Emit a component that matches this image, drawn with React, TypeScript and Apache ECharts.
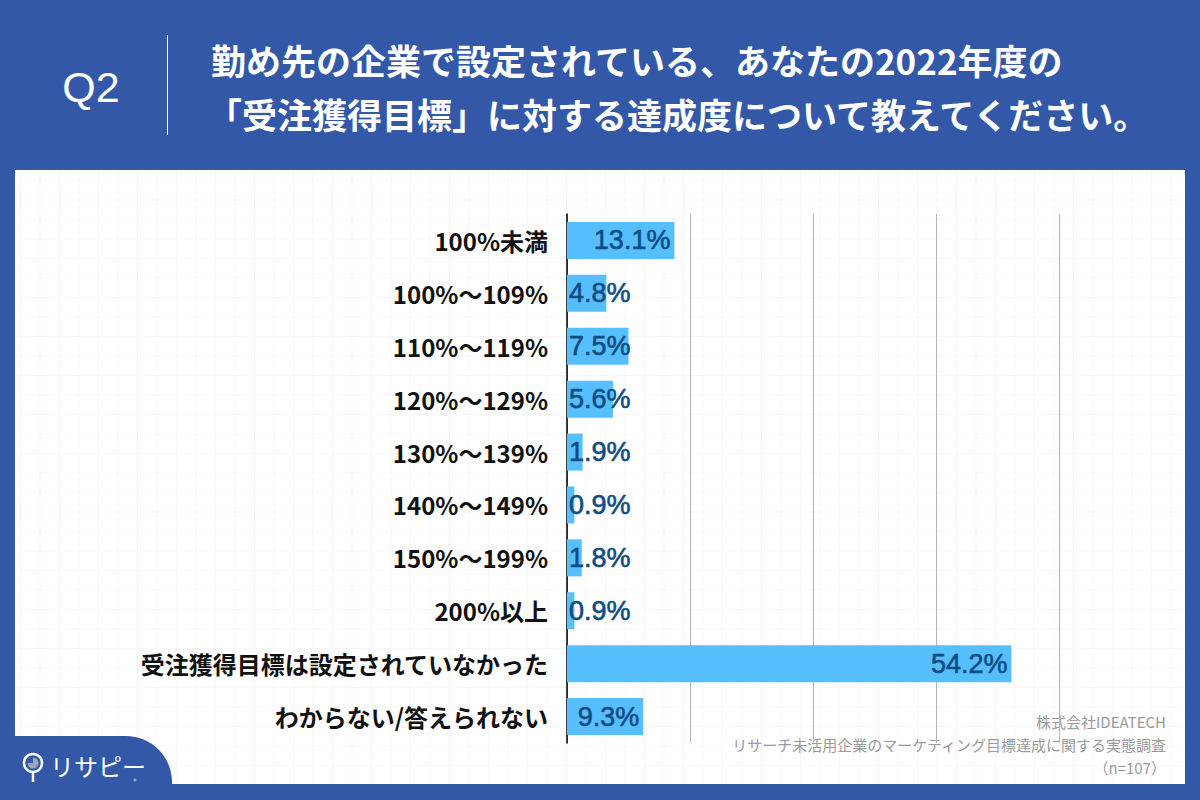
import React, { useEffect, useRef } from "react";
import * as echarts from "echarts";

const categories = [
  "100%未満",
  "100%～109%",
  "110%～119%",
  "120%～129%",
  "130%～139%",
  "140%～149%",
  "150%～199%",
  "200%以上",
  "受注獲得目標は設定されていなかった",
  "わからない/答えられない",
];
const values = [13.1, 4.8, 7.5, 5.6, 1.9, 0.9, 1.8, 0.9, 54.2, 9.3];
const xTicks = [0, 15, 30, 45, 60];

const titleLines = [
  "勤め先の企業で設定されている、あなたの2022年度の",
  "「受注獲得目標」に対する達成度について教えてください。",
];
const questionLabel = "Q2";
const sourceLines = [
  "株式会社IDEATECH",
  "リサーチ未活用企業のマーケティング目標達成に関する実態調査",
  "（n=107）",
];
const logoText = "リサピー";

const BLUE = "#3358a8";
const BAR = "#56bfff";
const LABEL = "#0f4c81";
const CJK = '"Noto Sans CJK JP", "Noto Sans", sans-serif';

export default function App() {
  const ref = useRef<HTMLDivElement>(null);

  useEffect(() => {
    if (!ref.current) return;
    const chart = echarts.init(ref.current, undefined, { renderer: "svg" });
    chart.setOption({
      animation: false,
      backgroundColor: "transparent",
      grid: { left: 567, right: 141, top: 214, bottom: 57, containLabel: false },
      xAxis: {
        type: "value",
        min: xTicks[0],
        max: xTicks[xTicks.length - 1],
        interval: xTicks[1] - xTicks[0],
        axisLine: { show: false },
        axisTick: { show: false },
        axisLabel: { show: false },
        splitLine: { show: true, lineStyle: { color: "#b5b5b5", width: 1 } },
      },
      yAxis: {
        type: "category",
        inverse: true,
        data: categories,
        axisLine: { show: true, lineStyle: { color: "#000", width: 1.5 } },
        axisTick: { show: false },
        axisLabel: {
          margin: 19,
          fontSize: 24,
          fontWeight: "bold",
          color: "#111",
          fontFamily: CJK,
        },
      },
      series: [
        {
          type: "bar",
          barCategoryGap: "30%",
          itemStyle: { color: BAR },
          data: values.map((v) => ({
            value: v,
            label:
              v >= 9
                ? { position: "insideRight", distance: 4 }
                : { position: "insideLeft", distance: 2 },
          })),
          label: {
            show: true,
            formatter: (p: any) => Number(p.value).toFixed(1) + "%",
            fontSize: 27,
            color: LABEL,
            textBorderColor: LABEL,
            textBorderWidth: 0.6,
            fontFamily: '"Liberation Sans", Arial, sans-serif',
          },
        },
      ],
      graphic: [
        {
          type: "text",
          style: {
            text: questionLabel,
            x: 91,
            y: 87,
            align: "center",
            verticalAlign: "middle",
            fill: "#fff",
            fontSize: 43,
            fontFamily: '"Liberation Sans", Arial, sans-serif',
          },
        },
        {
          type: "line",
          shape: { x1: 167.5, y1: 35, x2: 167.5, y2: 135 },
          style: { stroke: "#fff", lineWidth: 1 },
        },
        {
          type: "text",
          style: {
            text: titleLines[0],
            x: 211,
            y: 59,
            align: "left",
            verticalAlign: "middle",
            fill: "#fff",
            fontSize: 35,
            fontWeight: "bold",
            fontFamily: CJK,
          },
        },
        {
          type: "text",
          style: {
            text: titleLines[1],
            x: 207,
            y: 113,
            align: "left",
            verticalAlign: "middle",
            fill: "#fff",
            fontSize: 35,
            fontWeight: "bold",
            fontFamily: CJK,
          },
        },
        ...sourceLines.map((t, i) => ({
          type: "text",
          style: {
            text: t,
            x: 1166,
            y: 721 + i * 23,
            align: "right",
            verticalAlign: "middle",
            fill: "#9a9a9a",
            fontSize: 15,
            fontFamily: CJK,
          },
        })),
        {
          type: "rect",
          shape: { x: 0, y: 736, width: 172, height: 80, r: [0, 46, 0, 0] },
          style: { fill: BLUE },
        },
        {
          type: "circle",
          shape: { cx: 33, cy: 763, r: 9 },
          style: { fill: "none", stroke: "#fff", lineWidth: 2.5 },
        },
        {
          type: "sector",
          shape: { cx: 33, cy: 763, r: 5.5, r0: 0, startAngle: -Math.PI / 2, endAngle: Math.PI },
          style: { fill: "#9aa5b8" },
        },
        {
          type: "line",
          shape: { x1: 33, y1: 772, x2: 33, y2: 782 },
          style: { stroke: "#fff", lineWidth: 2.5 },
        },
        {
          type: "text",
          style: {
            text: logoText,
            x: 50,
            y: 765,
            align: "left",
            verticalAlign: "middle",
            fill: "#fff",
            fontSize: 24,
            fontFamily: CJK,
          },
        },
        {
          type: "circle",
          shape: { cx: 135, cy: 780, r: 1.5 },
          style: { fill: "#aab" },
        },
      ],
    });
    return () => chart.dispose();
  }, []);

  return (
    <div
      style={{
        position: "absolute",
        left: 0,
        top: 0,
        width: 1200,
        height: 800,
        background: BLUE,
        overflow: "hidden",
      }}
    >
      <div
        style={{
          position: "absolute",
          left: 15,
          top: 170,
          width: 1170,
          height: 614,
          backgroundColor: "#fff",
          backgroundImage:
            "linear-gradient(to right, #f6f6f6 1px, transparent 1px), linear-gradient(to bottom, #f6f6f6 1px, transparent 1px)",
          backgroundSize: "19.5px 19.5px",
          backgroundPosition: "5px 10px",
        }}
      />
      <div
        ref={ref}
        style={{ position: "absolute", left: 0, top: 0, width: 1200, height: 800 }}
      />
    </div>
  );
}
